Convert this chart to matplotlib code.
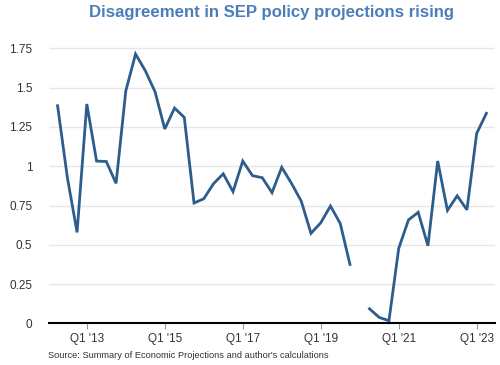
import matplotlib
matplotlib.use("Agg")
import matplotlib.pyplot as plt
import numpy as np

plt.rcParams['font.family'] = ['Liberation Sans', 'DejaVu Sans']

# Quarters from Q2 2012 to Q2 2023 (NaN = no observation)
years = [2012]*3 + [y for y in range(2013, 2023) for _ in range(4)] + [2023]*2
quarters = [2, 3, 4] + [1, 2, 3, 4]*10 + [1, 2]
values = [1.385, 0.93, 0.579,
          1.396, 1.033, 1.03, 0.891,
          1.479, 1.714, 1.608, 1.474,
          1.237, 1.37, 1.311, 0.766,
          0.793, 0.889, 0.952, 0.838,
          1.033, 0.94, 0.927, 0.832,
          0.993, 0.891, 0.778, 0.573,
          0.64, 0.747, 0.636, 0.375,
          np.nan, 0.093, 0.038, 0.017,
          0.477, 0.658, 0.707, 0.494,
          1.033, 0.719, 0.812, 0.723,
          1.209, 1.337]
xticks = [2013, 2015, 2017, 2019, 2021, 2023]
xticklabels = ["Q1 '13", "Q1 '15", "Q1 '17", "Q1 '19", "Q1 '21", "Q1 '23"]
yticks = [0, 0.25, 0.5, 0.75, 1, 1.25, 1.5, 1.75]
yticklabels = ["0", "0.25", "0.5", "0.75", "1", "1.25", "1.5", "1.75"]

x = np.array(years) + (np.array(quarters) - 1) / 4.0
y = np.array(values, dtype=float)

fig = plt.figure(figsize=(5, 3.65), dpi=100)
ax = fig.add_axes([0.098, 0.114, 0.892, 0.775])

ax.plot(x, y, color='#2c5d8c', linewidth=2.0, solid_joinstyle='miter')

ax.set_xlim(2012.03, 2023.47)
ax.set_ylim(0, 1.8)
ax.set_yticks(yticks)
ax.set_yticklabels(yticklabels)
ax.set_xticks(xticks)
ax.set_xticklabels(xticklabels)

ax.grid(axis='y', color='#e6e6e6', linewidth=1.0)
ax.set_axisbelow(True)
for s in ['top', 'right', 'left']:
    ax.spines[s].set_visible(False)
ax.spines['bottom'].set_color('black')
ax.spines['bottom'].set_linewidth(1.5)
ax.tick_params(axis='y', length=0, labelsize=8.5, labelcolor='#333333', pad=12)
ax.tick_params(axis='x', length=4, width=0.8, color='#999999', labelsize=8.5,
               labelcolor='#333333', pad=3)

fig.text(0.543, 0.966, "Disagreement in SEP policy projections rising",
         ha='center', va='center', fontsize=12.1, fontweight='bold', color='#4a7ebb')
fig.text(0.096, 0.027, "Source: Summary of Economic Projections and author's calculations",
         ha='left', va='center', fontsize=6.7, color='#333333')

fig.savefig("out.png", dpi=100)
